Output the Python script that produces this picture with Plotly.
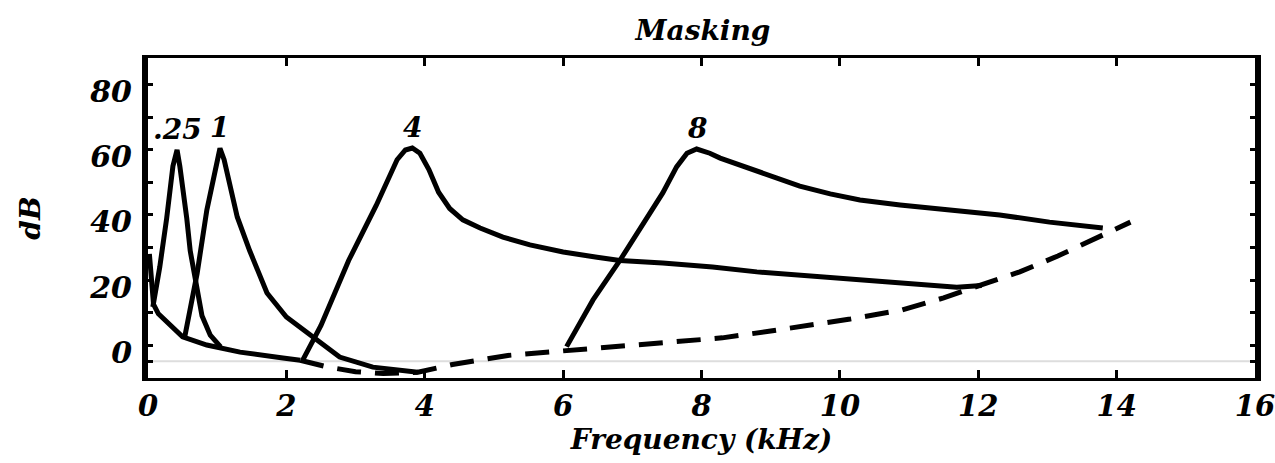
import plotly.graph_objects as go

# ---------------- data ----------------
# threshold in quiet (solid low-frequency part, dashed remainder)
quiet_solid_khz = [0.02, 0.05, 0.08, 0.15, 0.27, 0.5, 0.85, 1.33, 1.95, 2.2]
quiet_solid_db = [28, 17, 12.5, 9.6, 7.2, 2.5, 0.0, -2.2, -4.0, -4.7]

quiet_dash_khz = [2.2, 2.6, 3.0, 3.4, 3.9, 4.4, 5.2, 6.0, 6.5, 7.15, 7.7, 8.3, 9.0,
                  9.6, 10.15, 10.9, 11.5, 12.0, 12.6, 13.15, 13.7, 14.2]
quiet_dash_db = [-4.7, -6.8, -8.2, -8.8, -8.4, -6.0, -3.2, -1.8, -0.9, 0.0, 0.9, 2.2, 4.3,
                 6.2, 8.0, 10.8, 14.5, 18.2, 22.5, 27.4, 32.9, 37.8]

# masking curves for narrow-band maskers
m025_khz = [0.07, 0.17, 0.27, 0.36, 0.42, 0.46, 0.56, 0.61, 0.78, 0.9, 1.05]
m025_db = [11.7, 24, 39, 55, 60, 55, 39, 29, 9, 3, -0.6]

m1_khz = [0.53, 0.71, 0.85, 1.01, 1.04, 1.1, 1.23, 1.29, 1.47, 1.72, 2.0, 2.44, 2.77, 3.25, 3.9]
m1_db = [2.4, 22, 41.5, 57.8, 60.5, 57, 45.5, 39.4, 29, 16, 8.6, 1.5, -3.7, -6.8, -8.4]

m4_khz = [2.24, 2.5, 2.9, 3.3, 3.6, 3.72, 3.82, 3.93, 4.06, 4.2, 4.36, 4.55, 4.8, 5.13,
          5.52, 6.0, 6.49, 6.82, 7.44, 8.16, 8.8, 9.75, 10.72, 11.69, 12.05]
m4_db = [-4.5, 6, 26, 43, 57, 60, 60.6, 59, 54, 47, 42, 38.5, 36, 33.2,
         30.8, 28.6, 27, 26, 25.2, 24, 22.5, 20.9, 19.4, 17.8, 18.3]

m8_khz = [6.05, 6.43, 6.82, 7.11, 7.44, 7.64, 7.79, 7.93, 8.12, 8.27, 8.84, 9.13, 9.42,
          9.86, 10.29, 10.87, 11.59, 12.31, 13.03, 13.8]
m8_db = [-0.5, 13.8, 26, 36, 46.8, 54.8, 59, 60.3, 59, 57.5, 53.2, 50.8, 48.9,
         46.5, 44.6, 43.1, 41.5, 40, 37.8, 36.0]

masker_labels = [".25", "1", "4", "8"]
masker_curves = [(m025_khz, m025_db), (m1_khz, m1_db), (m4_khz, m4_db), (m8_khz, m8_db)]

x_ticks = [0, 2, 4, 6, 8, 10, 12, 14, 16]
y_label_ticks = [0, 20, 40, 60, 80]
y_minor_ticks = [-5, 10, 30, 50, 70]
axis_line_db = -5

# ---------------- figure ----------------
FONT = dict(family="DejaVu Serif", weight="bold", style="italic", color="black")
LW = 5

fig = go.Figure()

fig.add_shape(type="line", xref="paper", x0=0, x1=1, yref="y", y0=axis_line_db, y1=axis_line_db,
              line=dict(color="#dddddd", width=2), layer="below")

for xs, ys in masker_curves:
    fig.add_trace(go.Scatter(x=xs, y=ys, mode="lines",
                             line=dict(color="black", width=LW), showlegend=False))

fig.add_trace(go.Scatter(x=quiet_solid_khz, y=quiet_solid_db, mode="lines",
                         line=dict(color="black", width=LW), showlegend=False))
fig.add_trace(go.Scatter(x=quiet_dash_khz, y=quiet_dash_db, mode="lines",
                         line=dict(color="black", width=LW, dash="24px,14px"), showlegend=False))

for lab, (xs, ys) in zip(masker_labels, masker_curves):
    i = ys.index(max(ys))
    fig.add_annotation(x=xs[i], y=ys[i], text=lab, showarrow=False, yanchor="bottom",
                       yshift=2, font=dict(FONT, size=28))

fig.update_layout(
    width=1275, height=463,
    margin=dict(l=148, r=20, t=58, b=85),
    paper_bgcolor="white", plot_bgcolor="white",
    title=dict(text="Masking", x=703 / 1275, xanchor="center", y=1 - 30 / 463, yanchor="middle",
               font=dict(FONT, size=28)),
)

fig.update_xaxes(
    range=[0, 16], tickvals=x_ticks, ticks="inside", ticklen=8, tickwidth=3, tickcolor="black",
    showline=True, linewidth=3, linecolor="black", mirror="ticks", automargin=False,
    showgrid=False, zeroline=False, ticklabeloverflow="allow",
    tickfont=dict(FONT, size=29),
    title=dict(text="Frequency (kHz)", font=dict(FONT, size=28), standoff=6),
)

fig.update_yaxes(
    range=[-10.15, 88.3], tickvals=y_label_ticks, ticks="inside", ticklen=5, tickwidth=3,
    tickcolor="black", showline=True, linewidth=6, linecolor="black", mirror="ticks",
    showgrid=False, zeroline=False, ticklabelshift=7, ticklabelstandoff=4, automargin=False,
    minor=dict(tickvals=y_minor_ticks, ticks="inside", ticklen=5, tickwidth=3, tickcolor="black",
               showgrid=False),
    tickfont=dict(FONT, size=30),
    title=dict(text="dB", font=dict(FONT, size=28), standoff=42),
)

fig.write_html("out.html")
